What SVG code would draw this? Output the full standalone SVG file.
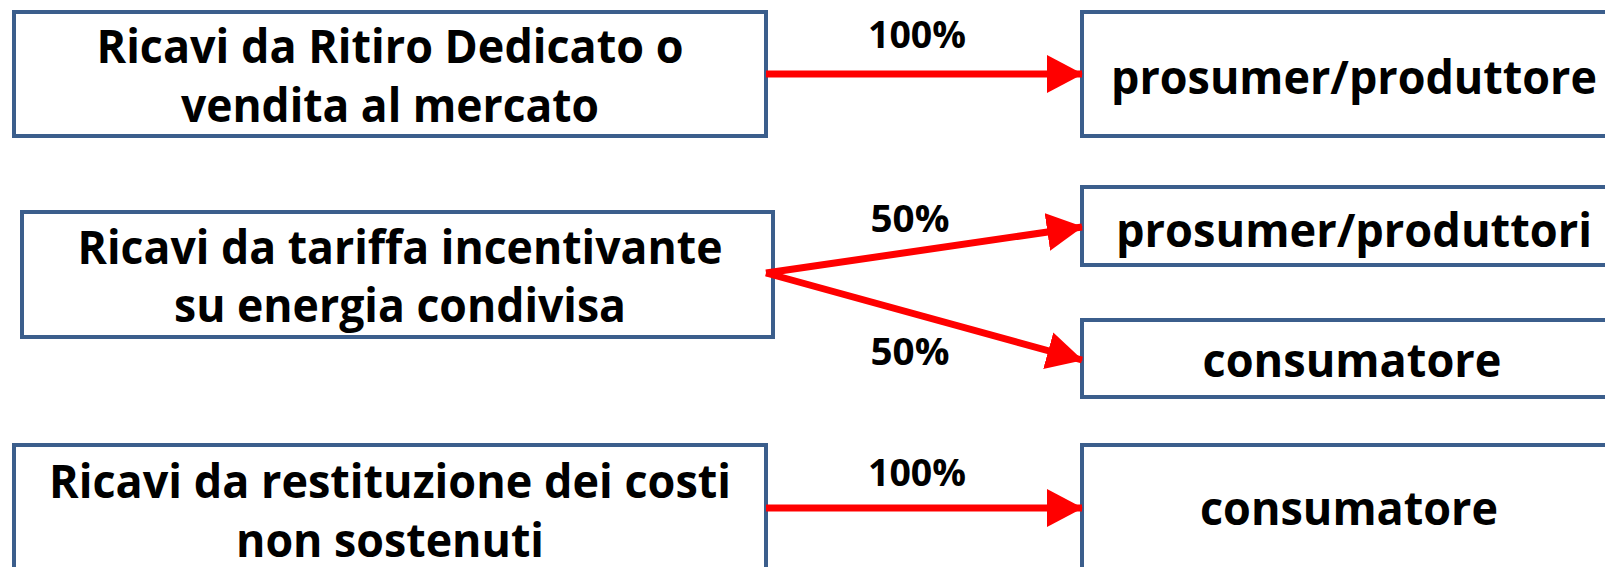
<svg xmlns="http://www.w3.org/2000/svg" width="1605" height="567" viewBox="0 0 1605 567">
<style>
.box{fill:#fff;stroke:#3B5E8C;stroke-width:4}
.t{font-family:"Open Sans","Liberation Sans",sans-serif;font-weight:bold;font-size:46px;fill:#000;text-anchor:middle}
.p{font-family:"Open Sans","Liberation Sans",sans-serif;font-weight:bold;font-size:37px;fill:#000;text-anchor:middle}
.c{stroke:#FF0000;stroke-width:7;fill:none}
</style>
<defs>
<marker id="ah" markerUnits="userSpaceOnUse" markerWidth="36" markerHeight="38" refX="35" refY="19" orient="auto">
<path d="M0,0 L36,19 L0,38 Z" fill="#FF0000"/>
</marker>
</defs>
<g id="n1">
<rect class="box" x="14" y="12" width="752" height="124"/>
<text class="t" x="390" y="63" textLength="587" lengthAdjust="spacingAndGlyphs">Ricavi da Ritiro Dedicato o</text>
<text class="t" x="390" y="122" textLength="418" lengthAdjust="spacingAndGlyphs">vendita al mercato</text>
</g>
<g id="n2">
<rect class="box" x="22" y="212" width="751" height="125"/>
<text class="t" x="400" y="264" textLength="645" lengthAdjust="spacingAndGlyphs">Ricavi da tariffa incentivante</text>
<text class="t" x="400" y="322" textLength="452" lengthAdjust="spacingAndGlyphs">su energia condivisa</text>
</g>
<g id="n3">
<rect class="box" x="14" y="445" width="752" height="140"/>
<text class="t" x="390" y="498" textLength="682" lengthAdjust="spacingAndGlyphs">Ricavi da restituzione dei costi</text>
<text class="t" x="390" y="557" textLength="308" lengthAdjust="spacingAndGlyphs">non sostenuti</text>
</g>
<g id="nA">
<rect class="box" x="1082" y="12" width="540" height="124"/>
<text class="t" x="1354" y="94" textLength="486" lengthAdjust="spacingAndGlyphs">prosumer/produttore</text>
</g>
<g id="nB">
<rect class="box" x="1082" y="187" width="540" height="78"/>
<text class="t" x="1354" y="247" textLength="476" lengthAdjust="spacingAndGlyphs">prosumer/produttori</text>
</g>
<g id="nC">
<rect class="box" x="1082" y="320" width="540" height="77"/>
<text class="t" x="1352" y="377" textLength="299" lengthAdjust="spacingAndGlyphs">consumatore</text>
</g>
<g id="nD">
<rect class="box" x="1082" y="445" width="540" height="140"/>
<text class="t" x="1349" y="525" textLength="298" lengthAdjust="spacingAndGlyphs">consumatore</text>
</g>
<g id="connectors">
<line class="c" x1="766" y1="74" x2="1082" y2="74" marker-end="url(#ah)"/>
<line class="c" x1="766" y1="273" x2="1082" y2="227" marker-end="url(#ah)"/>
<line class="c" x1="766" y1="273" x2="1082" y2="360" marker-end="url(#ah)"/>
<line class="c" x1="766" y1="508" x2="1082" y2="508" marker-end="url(#ah)"/>
<text class="p" x="917" y="48" textLength="98" lengthAdjust="spacingAndGlyphs">100%</text>
<text class="p" x="910" y="232" textLength="79" lengthAdjust="spacingAndGlyphs">50%</text>
<text class="p" x="910" y="365" textLength="79" lengthAdjust="spacingAndGlyphs">50%</text>
<text class="p" x="917" y="486" textLength="98" lengthAdjust="spacingAndGlyphs">100%</text>
</g>
</svg>
